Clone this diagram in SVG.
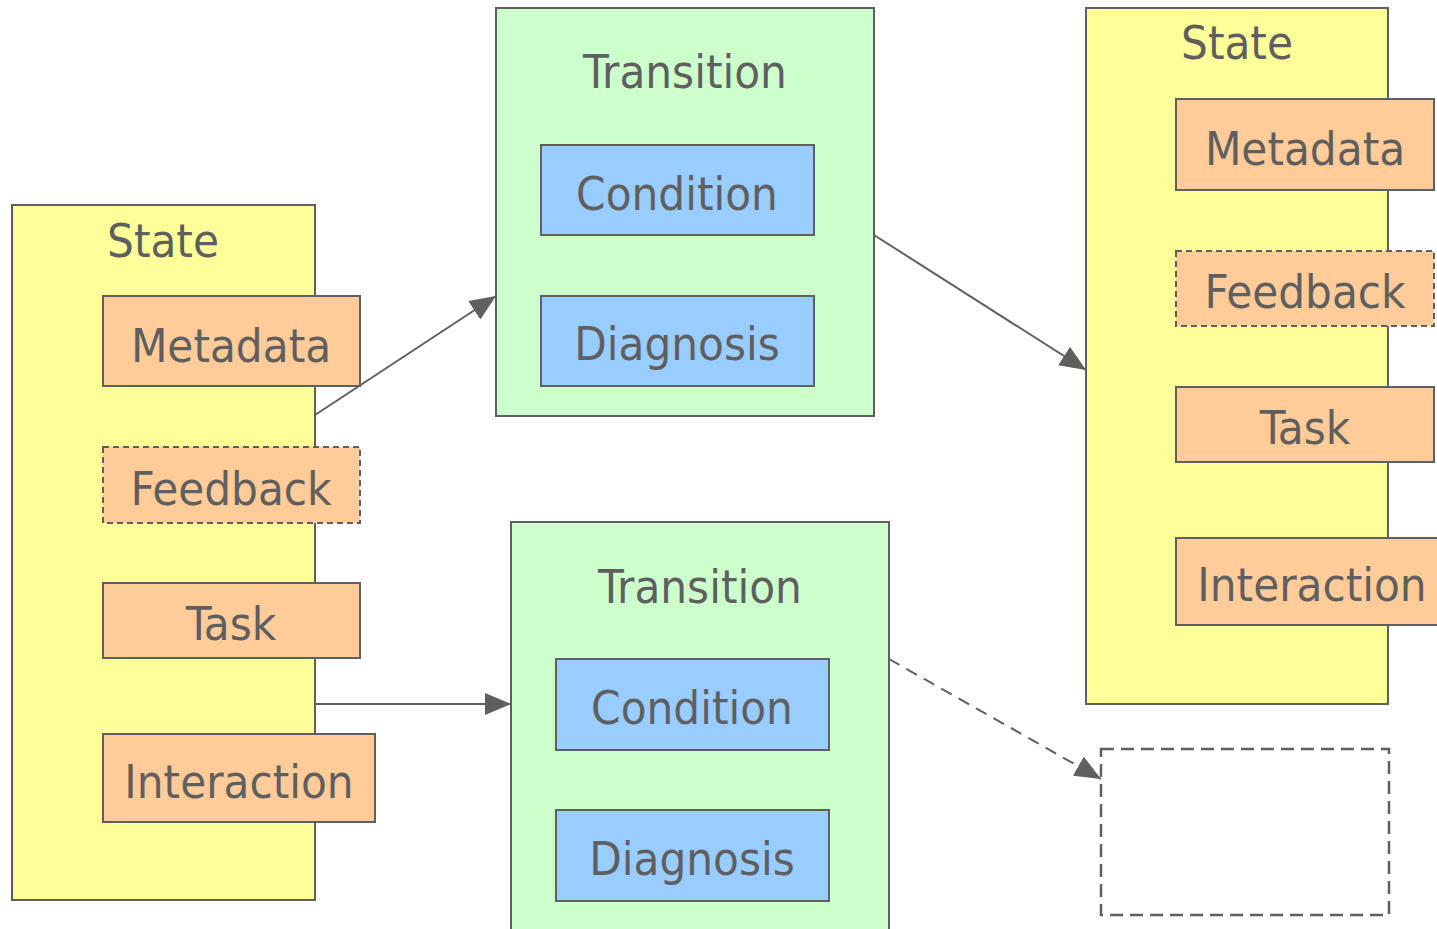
<svg xmlns="http://www.w3.org/2000/svg" width="1437" height="929" viewBox="0 0 1437 929">
  <style>
    .state { fill: #ffff99; stroke: #5f5f5f; stroke-width: 2; }
    .trans { fill: #ccffcc; stroke: #5f5f5f; stroke-width: 2; }
    .part { fill: #ffcc99; stroke: #5f5f5f; stroke-width: 2; }
    .check { fill: #99ccff; stroke: #5f5f5f; stroke-width: 2; }
    .dash { stroke-dasharray: 6 4; }
    .empty { fill: #ffffff; stroke: #5f5f5f; stroke-width: 2.5; stroke-dasharray: 13 7; }
    text { font-family: "DejaVu Sans Condensed", "DejaVu Sans", sans-serif; font-stretch: condensed; font-size: 47px; fill: #5f5f5f; text-anchor: middle; }
    .edge { fill: none; stroke: #5f5f5f; stroke-width: 2; }
    .edge.dashed { stroke-dasharray: 12 8; }
  </style>
  <defs>
    <marker id="arrow" markerUnits="userSpaceOnUse" markerWidth="28" markerHeight="24" refX="26" refY="11" orient="auto">
      <path d="M0,0 L26,11 L0,22 z" fill="#5f5f5f"/>
    </marker>
  </defs>

  <!-- source state -->
  <g id="state-left">
    <rect class="state" x="12" y="205" width="303" height="695"/>
    <text x="163" y="257">State</text>
  </g>
  <g id="state-left-metadata">
    <rect class="part" x="103" y="296" width="257" height="90"/>
    <text x="231" y="362">Metadata</text>
  </g>
  <g id="state-left-feedback">
    <rect class="part dash" x="103" y="447" width="257" height="76"/>
    <text x="231" y="505">Feedback</text>
  </g>
  <g id="state-left-task">
    <rect class="part" x="103" y="583" width="257" height="75"/>
    <text x="231" y="640">Task</text>
  </g>
  <g id="state-left-interaction">
    <rect class="part" x="103" y="734" width="272" height="88"/>
    <text x="239" y="798">Interaction</text>
  </g>

  <!-- upper transition -->
  <g id="transition-top">
    <rect class="trans" x="496" y="8" width="378" height="408"/>
    <text x="685" y="88">Transition</text>
  </g>
  <g id="transition-top-condition">
    <rect class="check" x="541" y="145" width="273" height="90"/>
    <text x="677" y="210">Condition</text>
  </g>
  <g id="transition-top-diagnosis">
    <rect class="check" x="541" y="296" width="273" height="90"/>
    <text x="677" y="360">Diagnosis</text>
  </g>

  <!-- lower transition -->
  <g id="transition-bottom">
    <rect class="trans" x="511" y="522" width="378" height="420"/>
    <text x="700" y="603">Transition</text>
  </g>
  <g id="transition-bottom-condition">
    <rect class="check" x="556" y="659" width="273" height="91"/>
    <text x="692" y="724">Condition</text>
  </g>
  <g id="transition-bottom-diagnosis">
    <rect class="check" x="556" y="810" width="273" height="91"/>
    <text x="692" y="875">Diagnosis</text>
  </g>

  <!-- target state -->
  <g id="state-right">
    <rect class="state" x="1086" y="8" width="302" height="696"/>
    <text x="1237" y="59">State</text>
  </g>
  <g id="state-right-metadata">
    <rect class="part" x="1176" y="99" width="258" height="91"/>
    <text x="1305" y="165">Metadata</text>
  </g>
  <g id="state-right-feedback">
    <rect class="part dash" x="1176" y="251" width="258" height="75"/>
    <text x="1305" y="308">Feedback</text>
  </g>
  <g id="state-right-task">
    <rect class="part" x="1176" y="387" width="258" height="75"/>
    <text x="1305" y="444">Task</text>
  </g>
  <g id="state-right-interaction">
    <rect class="part" x="1176" y="538" width="272" height="87"/>
    <text x="1312" y="601">Interaction</text>
  </g>

  <!-- pending state -->
  <g id="state-pending">
    <rect class="empty" x="1101" y="749" width="288" height="166"/>
  </g>

  <!-- connectors -->
  <g id="edges">
    <line class="edge" x1="315" y1="415" x2="496" y2="296" marker-end="url(#arrow)"/>
    <line class="edge" x1="874" y1="235" x2="1086" y2="370" marker-end="url(#arrow)"/>
    <line class="edge" x1="315" y1="704" x2="511" y2="704" marker-end="url(#arrow)"/>
    <line class="edge dashed" x1="889" y1="659" x2="1101" y2="779" marker-end="url(#arrow)"/>
  </g>
</svg>
